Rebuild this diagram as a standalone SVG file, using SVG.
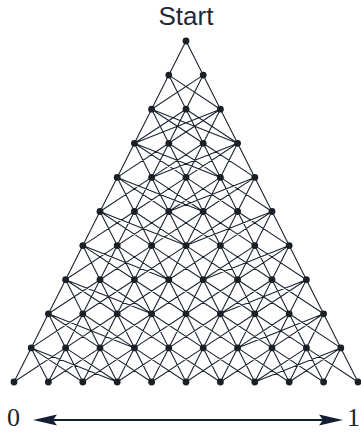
<svg xmlns="http://www.w3.org/2000/svg" width="361" height="432" viewBox="0 0 361 432">
<style>
.e{fill:none;stroke:#1b2430;stroke-width:1.1}
.n{fill:#1b1f26}
.lbl{font-family:"Liberation Sans",Arial,sans-serif;font-size:26px;fill:#1f2937}
.num{font-family:"Liberation Serif","Times New Roman",serif;font-size:26px;fill:#1b2430}
.ax{stroke:#132033;stroke-width:2;fill:none}
.ah{fill:#132033}
</style>
<rect width="361" height="432" fill="#fff"/>
<text class="lbl" x="186" y="25" text-anchor="middle">Start</text>
<g id="connectors">
<path class="e" d="M186 41L168.8 75.1M186 41L203.2 75.1"/>
<path class="e" d="M168.8 75.1L151.6 109.2M168.8 75.1L186 109.2M168.8 75.1L220.4 109.2M203.2 75.1L151.6 109.2M203.2 75.1L186 109.2M203.2 75.1L220.4 109.2"/>
<path class="e" d="M151.6 109.2L134.4 143.3M151.6 109.2L168.8 143.3M151.6 109.2L203.2 143.3M151.6 109.2L237.6 143.3M186 109.2L134.4 143.3M186 109.2L168.8 143.3M186 109.2L203.2 143.3M186 109.2L237.6 143.3M220.4 109.2L134.4 143.3M220.4 109.2L168.8 143.3M220.4 109.2L203.2 143.3M220.4 109.2L237.6 143.3"/>
<path class="e" d="M134.4 143.3L117.2 177.4M134.4 143.3L151.6 177.4M134.4 143.3L186 177.4M134.4 143.3L220.4 177.4M168.8 143.3L117.2 177.4M168.8 143.3L151.6 177.4M168.8 143.3L186 177.4M168.8 143.3L220.4 177.4M203.2 143.3L151.6 177.4M203.2 143.3L186 177.4M203.2 143.3L220.4 177.4M203.2 143.3L254.8 177.4M237.6 143.3L151.6 177.4M237.6 143.3L186 177.4M237.6 143.3L220.4 177.4M237.6 143.3L254.8 177.4"/>
<path class="e" d="M117.2 177.4L100 211.5M117.2 177.4L134.4 211.5M117.2 177.4L168.8 211.5M117.2 177.4L203.2 211.5M151.6 177.4L100 211.5M151.6 177.4L134.4 211.5M151.6 177.4L168.8 211.5M151.6 177.4L203.2 211.5M186 177.4L134.4 211.5M186 177.4L168.8 211.5M186 177.4L203.2 211.5M186 177.4L237.6 211.5M220.4 177.4L168.8 211.5M220.4 177.4L203.2 211.5M220.4 177.4L237.6 211.5M220.4 177.4L272 211.5M254.8 177.4L168.8 211.5M254.8 177.4L203.2 211.5M254.8 177.4L237.6 211.5M254.8 177.4L272 211.5"/>
<path class="e" d="M100 211.5L82.8 245.6M100 211.5L117.2 245.6M100 211.5L151.6 245.6M100 211.5L186 245.6M134.4 211.5L82.8 245.6M134.4 211.5L117.2 245.6M134.4 211.5L151.6 245.6M134.4 211.5L186 245.6M168.8 211.5L117.2 245.6M168.8 211.5L151.6 245.6M168.8 211.5L186 245.6M168.8 211.5L220.4 245.6M203.2 211.5L151.6 245.6M203.2 211.5L186 245.6M203.2 211.5L220.4 245.6M203.2 211.5L254.8 245.6M237.6 211.5L186 245.6M237.6 211.5L220.4 245.6M237.6 211.5L254.8 245.6M237.6 211.5L289.2 245.6M272 211.5L186 245.6M272 211.5L220.4 245.6M272 211.5L254.8 245.6M272 211.5L289.2 245.6"/>
<path class="e" d="M82.8 245.6L65.6 279.7M82.8 245.6L100 279.7M82.8 245.6L134.4 279.7M82.8 245.6L168.8 279.7M117.2 245.6L65.6 279.7M117.2 245.6L100 279.7M117.2 245.6L134.4 279.7M117.2 245.6L168.8 279.7M151.6 245.6L100 279.7M151.6 245.6L134.4 279.7M151.6 245.6L168.8 279.7M151.6 245.6L203.2 279.7M186 245.6L134.4 279.7M186 245.6L168.8 279.7M186 245.6L203.2 279.7M186 245.6L237.6 279.7M220.4 245.6L168.8 279.7M220.4 245.6L203.2 279.7M220.4 245.6L237.6 279.7M220.4 245.6L272 279.7M254.8 245.6L203.2 279.7M254.8 245.6L237.6 279.7M254.8 245.6L272 279.7M254.8 245.6L306.4 279.7M289.2 245.6L203.2 279.7M289.2 245.6L237.6 279.7M289.2 245.6L272 279.7M289.2 245.6L306.4 279.7"/>
<path class="e" d="M65.6 279.7L48.4 313.8M65.6 279.7L82.8 313.8M65.6 279.7L117.2 313.8M65.6 279.7L151.6 313.8M100 279.7L48.4 313.8M100 279.7L82.8 313.8M100 279.7L117.2 313.8M100 279.7L151.6 313.8M134.4 279.7L82.8 313.8M134.4 279.7L117.2 313.8M134.4 279.7L151.6 313.8M134.4 279.7L186 313.8M168.8 279.7L117.2 313.8M168.8 279.7L151.6 313.8M168.8 279.7L186 313.8M168.8 279.7L220.4 313.8M203.2 279.7L151.6 313.8M203.2 279.7L186 313.8M203.2 279.7L220.4 313.8M203.2 279.7L254.8 313.8M237.6 279.7L186 313.8M237.6 279.7L220.4 313.8M237.6 279.7L254.8 313.8M237.6 279.7L289.2 313.8M272 279.7L220.4 313.8M272 279.7L254.8 313.8M272 279.7L289.2 313.8M272 279.7L323.6 313.8M306.4 279.7L220.4 313.8M306.4 279.7L254.8 313.8M306.4 279.7L289.2 313.8M306.4 279.7L323.6 313.8"/>
<path class="e" d="M48.4 313.8L31.2 347.9M48.4 313.8L65.6 347.9M48.4 313.8L100 347.9M48.4 313.8L134.4 347.9M82.8 313.8L31.2 347.9M82.8 313.8L65.6 347.9M82.8 313.8L100 347.9M82.8 313.8L134.4 347.9M117.2 313.8L65.6 347.9M117.2 313.8L100 347.9M117.2 313.8L134.4 347.9M117.2 313.8L168.8 347.9M151.6 313.8L100 347.9M151.6 313.8L134.4 347.9M151.6 313.8L168.8 347.9M151.6 313.8L203.2 347.9M186 313.8L134.4 347.9M186 313.8L168.8 347.9M186 313.8L203.2 347.9M186 313.8L237.6 347.9M220.4 313.8L168.8 347.9M220.4 313.8L203.2 347.9M220.4 313.8L237.6 347.9M220.4 313.8L272 347.9M254.8 313.8L203.2 347.9M254.8 313.8L237.6 347.9M254.8 313.8L272 347.9M254.8 313.8L306.4 347.9M289.2 313.8L237.6 347.9M289.2 313.8L272 347.9M289.2 313.8L306.4 347.9M289.2 313.8L340.8 347.9M323.6 313.8L237.6 347.9M323.6 313.8L272 347.9M323.6 313.8L306.4 347.9M323.6 313.8L340.8 347.9"/>
<path class="e" d="M31.2 347.9L14 382M31.2 347.9L48.4 382M31.2 347.9L82.8 382M31.2 347.9L117.2 382M65.6 347.9L14 382M65.6 347.9L48.4 382M65.6 347.9L82.8 382M65.6 347.9L117.2 382M100 347.9L48.4 382M100 347.9L82.8 382M100 347.9L117.2 382M100 347.9L151.6 382M134.4 347.9L82.8 382M134.4 347.9L117.2 382M134.4 347.9L151.6 382M134.4 347.9L186 382M168.8 347.9L117.2 382M168.8 347.9L151.6 382M168.8 347.9L186 382M168.8 347.9L220.4 382M203.2 347.9L151.6 382M203.2 347.9L186 382M203.2 347.9L220.4 382M203.2 347.9L254.8 382M237.6 347.9L186 382M237.6 347.9L220.4 382M237.6 347.9L254.8 382M237.6 347.9L289.2 382M272 347.9L220.4 382M272 347.9L254.8 382M272 347.9L289.2 382M272 347.9L323.6 382M306.4 347.9L254.8 382M306.4 347.9L289.2 382M306.4 347.9L323.6 382M306.4 347.9L358 382M340.8 347.9L254.8 382M340.8 347.9L289.2 382M340.8 347.9L323.6 382M340.8 347.9L358 382"/>
</g>
<g id="nodes">
<g id="n0-0"><circle class="n" cx="186" cy="41" r="3.4"/></g>
<g id="n1-0"><circle class="n" cx="168.8" cy="75.1" r="3.4"/></g>
<g id="n1-1"><circle class="n" cx="203.2" cy="75.1" r="3.4"/></g>
<g id="n2-0"><circle class="n" cx="151.6" cy="109.2" r="3.4"/></g>
<g id="n2-1"><circle class="n" cx="186" cy="109.2" r="3.4"/></g>
<g id="n2-2"><circle class="n" cx="220.4" cy="109.2" r="3.4"/></g>
<g id="n3-0"><circle class="n" cx="134.4" cy="143.3" r="3.4"/></g>
<g id="n3-1"><circle class="n" cx="168.8" cy="143.3" r="3.4"/></g>
<g id="n3-2"><circle class="n" cx="203.2" cy="143.3" r="3.4"/></g>
<g id="n3-3"><circle class="n" cx="237.6" cy="143.3" r="3.4"/></g>
<g id="n4-0"><circle class="n" cx="117.2" cy="177.4" r="3.4"/></g>
<g id="n4-1"><circle class="n" cx="151.6" cy="177.4" r="3.4"/></g>
<g id="n4-2"><circle class="n" cx="186" cy="177.4" r="3.4"/></g>
<g id="n4-3"><circle class="n" cx="220.4" cy="177.4" r="3.4"/></g>
<g id="n4-4"><circle class="n" cx="254.8" cy="177.4" r="3.4"/></g>
<g id="n5-0"><circle class="n" cx="100" cy="211.5" r="3.4"/></g>
<g id="n5-1"><circle class="n" cx="134.4" cy="211.5" r="3.4"/></g>
<g id="n5-2"><circle class="n" cx="168.8" cy="211.5" r="3.4"/></g>
<g id="n5-3"><circle class="n" cx="203.2" cy="211.5" r="3.4"/></g>
<g id="n5-4"><circle class="n" cx="237.6" cy="211.5" r="3.4"/></g>
<g id="n5-5"><circle class="n" cx="272" cy="211.5" r="3.4"/></g>
<g id="n6-0"><circle class="n" cx="82.8" cy="245.6" r="3.4"/></g>
<g id="n6-1"><circle class="n" cx="117.2" cy="245.6" r="3.4"/></g>
<g id="n6-2"><circle class="n" cx="151.6" cy="245.6" r="3.4"/></g>
<g id="n6-3"><circle class="n" cx="186" cy="245.6" r="3.4"/></g>
<g id="n6-4"><circle class="n" cx="220.4" cy="245.6" r="3.4"/></g>
<g id="n6-5"><circle class="n" cx="254.8" cy="245.6" r="3.4"/></g>
<g id="n6-6"><circle class="n" cx="289.2" cy="245.6" r="3.4"/></g>
<g id="n7-0"><circle class="n" cx="65.6" cy="279.7" r="3.4"/></g>
<g id="n7-1"><circle class="n" cx="100" cy="279.7" r="3.4"/></g>
<g id="n7-2"><circle class="n" cx="134.4" cy="279.7" r="3.4"/></g>
<g id="n7-3"><circle class="n" cx="168.8" cy="279.7" r="3.4"/></g>
<g id="n7-4"><circle class="n" cx="203.2" cy="279.7" r="3.4"/></g>
<g id="n7-5"><circle class="n" cx="237.6" cy="279.7" r="3.4"/></g>
<g id="n7-6"><circle class="n" cx="272" cy="279.7" r="3.4"/></g>
<g id="n7-7"><circle class="n" cx="306.4" cy="279.7" r="3.4"/></g>
<g id="n8-0"><circle class="n" cx="48.4" cy="313.8" r="3.4"/></g>
<g id="n8-1"><circle class="n" cx="82.8" cy="313.8" r="3.4"/></g>
<g id="n8-2"><circle class="n" cx="117.2" cy="313.8" r="3.4"/></g>
<g id="n8-3"><circle class="n" cx="151.6" cy="313.8" r="3.4"/></g>
<g id="n8-4"><circle class="n" cx="186" cy="313.8" r="3.4"/></g>
<g id="n8-5"><circle class="n" cx="220.4" cy="313.8" r="3.4"/></g>
<g id="n8-6"><circle class="n" cx="254.8" cy="313.8" r="3.4"/></g>
<g id="n8-7"><circle class="n" cx="289.2" cy="313.8" r="3.4"/></g>
<g id="n8-8"><circle class="n" cx="323.6" cy="313.8" r="3.4"/></g>
<g id="n9-0"><circle class="n" cx="31.2" cy="347.9" r="3.4"/></g>
<g id="n9-1"><circle class="n" cx="65.6" cy="347.9" r="3.4"/></g>
<g id="n9-2"><circle class="n" cx="100" cy="347.9" r="3.4"/></g>
<g id="n9-3"><circle class="n" cx="134.4" cy="347.9" r="3.4"/></g>
<g id="n9-4"><circle class="n" cx="168.8" cy="347.9" r="3.4"/></g>
<g id="n9-5"><circle class="n" cx="203.2" cy="347.9" r="3.4"/></g>
<g id="n9-6"><circle class="n" cx="237.6" cy="347.9" r="3.4"/></g>
<g id="n9-7"><circle class="n" cx="272" cy="347.9" r="3.4"/></g>
<g id="n9-8"><circle class="n" cx="306.4" cy="347.9" r="3.4"/></g>
<g id="n9-9"><circle class="n" cx="340.8" cy="347.9" r="3.4"/></g>
<g id="n10-0"><circle class="n" cx="14" cy="382" r="3.4"/></g>
<g id="n10-1"><circle class="n" cx="48.4" cy="382" r="3.4"/></g>
<g id="n10-2"><circle class="n" cx="82.8" cy="382" r="3.4"/></g>
<g id="n10-3"><circle class="n" cx="117.2" cy="382" r="3.4"/></g>
<g id="n10-4"><circle class="n" cx="151.6" cy="382" r="3.4"/></g>
<g id="n10-5"><circle class="n" cx="186" cy="382" r="3.4"/></g>
<g id="n10-6"><circle class="n" cx="220.4" cy="382" r="3.4"/></g>
<g id="n10-7"><circle class="n" cx="254.8" cy="382" r="3.4"/></g>
<g id="n10-8"><circle class="n" cx="289.2" cy="382" r="3.4"/></g>
<g id="n10-9"><circle class="n" cx="323.6" cy="382" r="3.4"/></g>
<g id="n10-10"><circle class="n" cx="358" cy="382" r="3.4"/></g>
</g>
<g id="axis">
<line class="ax" x1="50" y1="420" x2="326" y2="420"/>
<path class="ah" d="M33 420L57 414.5L53 420L57 425.5Z"/>
<path class="ah" d="M343 420L319 414.5L323 420L319 425.5Z"/>
<text class="num" x="7" y="426">0</text>
<text class="num" x="347" y="426">1</text>
</g>
</svg>
